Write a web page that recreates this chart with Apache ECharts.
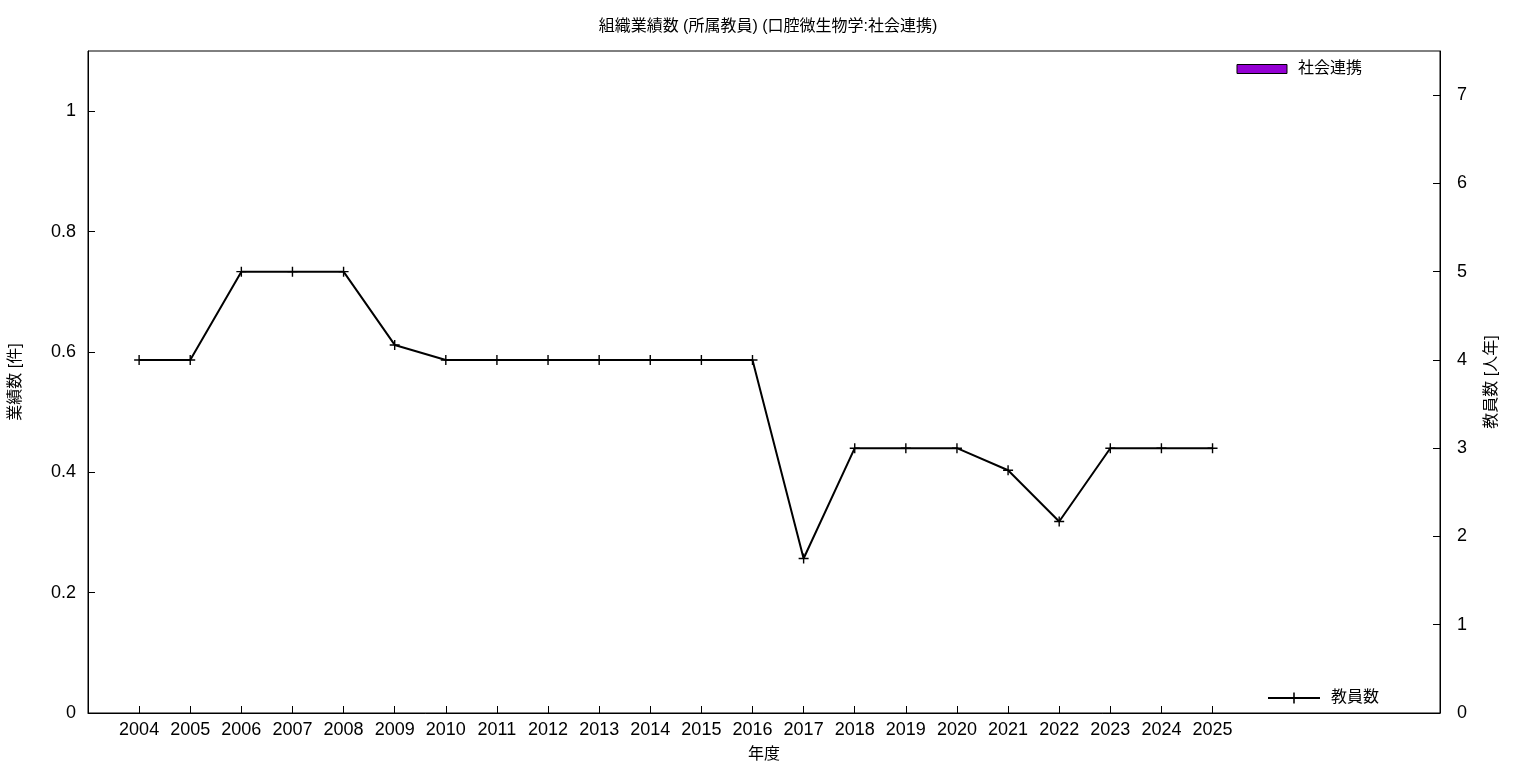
<!DOCTYPE html>
<html><head><meta charset="utf-8">
<script src="https://cdn.jsdelivr.net/npm/echarts@6/dist/echarts.min.js"></script>
<style>html,body{margin:0;padding:0;background:#fff}#c{width:1536px;height:768px}</style>
</head><body><div id="c"></div>
<script>
const years = [2004,2005,2006,2007,2008,2009,2010,2011,2012,2013,2014,2015,2016,2017,2018,2019,2020,2021,2022,2023,2024,2025];
const staff = [4,4,5,5,5,4.17,4,4,4,4,4,4,4,1.75,3,3,3,2.75,2.17,3,3,3];
const outreach = [0,0,0,0,0,0,0,0,0,0,0,0,0,0,0,0,0,0,0,0,0,0];
const leftTicks = [0,0.2,0.4,0.6,0.8,1];
const rightTicks = [0,1,2,3,4,5,6,7];
const titleText = '組織業績数 (所属教員) (口腔微生物学:社会連携)';

const font = '"Liberation Sans","Noto Sans CJK JP",sans-serif';
const chart = echarts.init(document.getElementById('c'));
chart.setOption({
  animation:false,
  textStyle:{fontFamily:font},
  title:{text:titleText,left:'center',top:14,textStyle:{fontSize:16,fontWeight:'normal',color:'#000',fontFamily:font}},
  grid:{left:88,right:96,top:51,bottom:55,show:true,borderColor:'#000',borderWidth:1,backgroundColor:'transparent',outerBoundsMode:'none',containLabel:false},
  legend:[
    {data:[{name:'社会連携',icon:'rect',itemStyle:{color:'#9400D3',borderColor:'#000',borderWidth:1}}],right:169,top:56,itemWidth:50,itemHeight:9,textStyle:{fontSize:16,color:'#000',fontFamily:font,padding:[0,0,0,6]}},
    {data:['教員数'],right:152,top:685,itemWidth:52,itemHeight:14,textStyle:{fontSize:16,color:'#000',fontFamily:font,padding:[0,0,0,6]}}
  ],
  xAxis:{type:'value',min:2003,max:2029.45,interval:1,
    name:'年度',nameLocation:'middle',nameGap:34,nameTextStyle:{fontSize:16,color:'#000'},
    axisLine:{show:true,onZero:false,lineStyle:{color:'#000'}},
    axisTick:{show:true,inside:true,length:7,customValues:years,lineStyle:{color:'#000'}},
    axisLabel:{customValues:years,fontSize:18,color:'#000',margin:8,formatter:v=>String(v)},
    splitLine:{show:false}},
  yAxis:[
    {type:'value',min:0,max:1.1,position:'left',
     name:'業績数 [件]',nameLocation:'middle',nameGap:64,nameRotate:90,nameTextStyle:{fontSize:16,color:'#000'},
     axisLine:{show:true,lineStyle:{color:'#000'}},
     axisTick:{show:true,inside:true,length:7,customValues:leftTicks,lineStyle:{color:'#000'}},
     axisLabel:{customValues:leftTicks,fontSize:18,color:'#000',margin:12,formatter:v=>String(v)},
     splitLine:{show:false}},
    {type:'value',min:0,max:7.5,position:'right',
     name:'教員数 [人年]',nameLocation:'middle',nameGap:44,nameRotate:90,nameTextStyle:{fontSize:16,color:'#000'},
     axisLine:{show:true,lineStyle:{color:'#000'}},
     axisTick:{show:true,inside:true,length:7,customValues:rightTicks,lineStyle:{color:'#000'}},
     axisLabel:{customValues:rightTicks,fontSize:18,color:'#000',margin:17,formatter:v=>String(v)},
     splitLine:{show:false}}
  ],
  series:[
    {name:'社会連携',type:'bar',yAxisIndex:0,barWidth:30,
     data:years.map((y,i)=>[y,outreach[i]]),
     itemStyle:{color:'#9400D3',borderWidth:0}},
    {name:'教員数',type:'line',yAxisIndex:1,
     data:years.map((y,i)=>[y,staff[i]]),
     symbol:'path://M-0.14,-1H0.14V-0.14H1V0.14H0.14V1H-0.14V0.14H-1V-0.14H-0.14Z',symbolSize:10,
     lineStyle:{color:'#000',width:2},itemStyle:{color:'#000'}}
  ]
});
</script></body></html>
